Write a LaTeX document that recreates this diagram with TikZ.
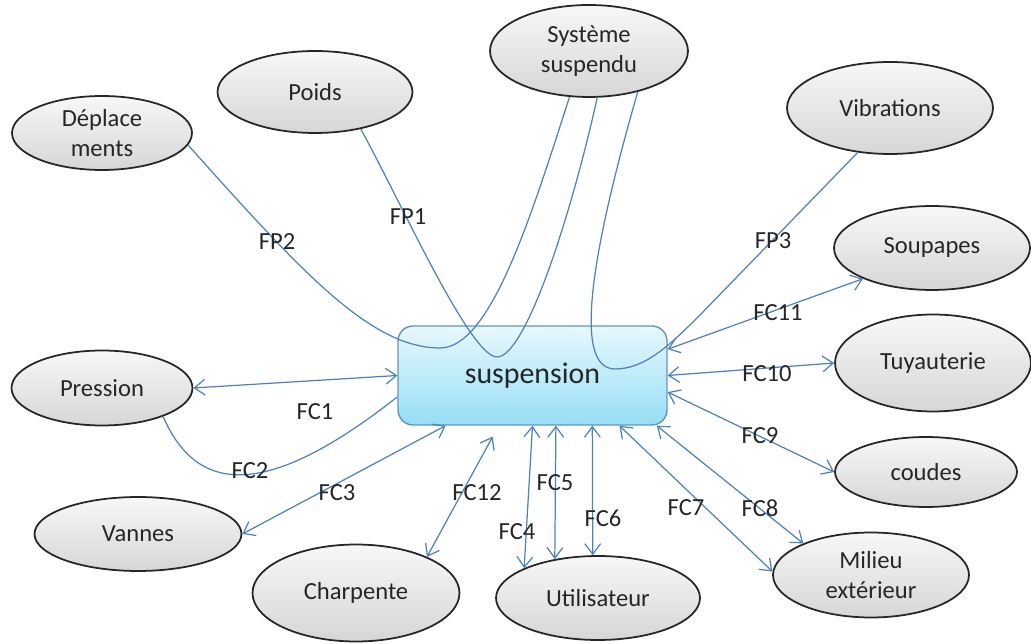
\documentclass[tikz,border=0pt]{standalone}
\usepackage{fontspec}
\setmainfont{Carlito}
\usetikzlibrary{shapes.geometric,arrows.meta}
\definecolor{lienbleu}{RGB}{79,129,189}
\definecolor{bordbleu}{RGB}{95,150,195}
\definecolor{cielhaut}{RGB}{232,248,253}
\definecolor{cielbas}{RGB}{150,222,245}
\definecolor{texte}{RGB}{38,38,38}

\begin{document}
\begin{tikzpicture}[x=0.02cm, y=-0.02cm,
	bulle/.style={ellipse, draw=black!85, line width=1pt, top color=gray!6, bottom color=gray!32,
		text=texte, align=center, inner sep=0pt, font=\fontsize{14}{17}\selectfont},
	boite/.style={rectangle, rounded corners=0.3cm, draw=bordbleu, line width=0.8pt,
		top color=cielhaut, bottom color=cielbas, minimum width=5.38cm, minimum height=1.98cm,
		text=texte, font=\fontsize{17}{20}\selectfont},
	lien/.style={draw=lienbleu, line width=0.7pt, >={Straight Barb[length=6pt,width=9pt]}},
	lbl/.style={text=texte, inner sep=0pt, font=\fontsize{14}{17}\selectfont}]
	\useasboundingbox (0,0) rectangle (1031,644);
	% systeme
	\node[boite] (susp) at (532.5,375.5) {suspension};
	% milieux exterieurs
	\node[bulle, minimum width=3.6cm, minimum height=1.48cm] (depl) at (102,133) {Déplace\\ments};
	\node[bulle, minimum width=3.9cm, minimum height=1.64cm] (poids) at (315,92) {Poids};
	\node[bulle, minimum width=3.96cm, minimum height=1.84cm] (sys) at (589,51) {Système\\suspendu};
	\node[bulle, minimum width=4.12cm, minimum height=1.84cm] (vib) at (890,108) {Vibrations};
	\node[bulle, minimum width=3.92cm, minimum height=1.68cm] (soup) at (932,248) {Soupapes};
	\node[bulle, minimum width=3.92cm, minimum height=1.94cm] (tuy) at (933,363) {Tuyauterie};
	\node[bulle, minimum width=3.64cm, minimum height=1.4cm] (coud) at (926,472) {coudes};
	\node[bulle, minimum width=3.92cm, minimum height=1.7cm] (mil) at (871,575) {Milieu\\extérieur};
	\node[bulle, minimum width=4.08cm, minimum height=1.68cm] (util) at (598,598) {Utilisateur};
	\node[bulle, minimum width=4.14cm, minimum height=1.94cm] (charp) at (356,593) {Charpente};
	\node[bulle, minimum width=4.14cm, minimum height=1.48cm] (vann) at (138,534) {Vannes};
	\node[bulle, minimum width=3.62cm, minimum height=1.5cm] (pres) at (102,388) {Pression};
	% fonctions principales
	\coordinate (creux1) at (497,357);
	\coordinate (creux2) at (440,348);
	\coordinate (creux3) at (615,369);
	\draw[lien] (poids.-39) .. controls (400,200) and (470,357) .. (creux1)
		.. controls (525,357) and (570,220) .. (sys.-80);
	\draw[lien] (depl.-8) .. controls (300,270) and (370,348) .. (creux2)
		.. controls (490,348) and (530,220) .. (sys.-113);
	\draw[lien] (sys.-40) .. controls (595,240) and (570,369) .. (creux3)
		.. controls (645,369) and (670,345) .. (700,315) -- (vib.-126);
	% fonctions contraintes
	\draw[lien,<->] (pres.east) -- (susp.west);
	\draw[lien] (pres.-25) .. controls (195,490) and (260,505) .. (susp.189);
	\draw[lien,<->] (vann.east) -- (susp.210);
	\draw[lien,<->,shorten >=0.25cm] (charp.27) -- (susp.236);
	\draw[lien,<->] (susp.south) -- (util.158);
	\draw[lien,<->] (susp.-65.5) -- (util.138);
	\draw[lien,<->] (susp.-40) -- (util.97);
	\draw[lien,<->] (susp.-30) -- (mil.178);
	\draw[lien,<->] (susp.-22) -- (mil.155);
	\draw[lien,<->] (susp.-7) -- (coud.west);
	\draw[lien,<->] (susp.east) -- (tuy.west);
	\draw[lien,<->] (susp.11) -- (soup.-156);
	% etiquettes
	\foreach \t/\x/\y in {FP1/408/217, FP2/277/242, FP3/773/241, FC1/315/412, FC2/250/471,
		FC3/337/493, FC4/517/532, FC5/555/483, FC6/603/518, FC7/686/508, FC8/760/508,
		FC9/760/436, FC10/767/374, FC11/778/313, FC12/477/493}
		\node[lbl] (l\t) at (\x,\y) {\t};
\end{tikzpicture}
\end{document}
